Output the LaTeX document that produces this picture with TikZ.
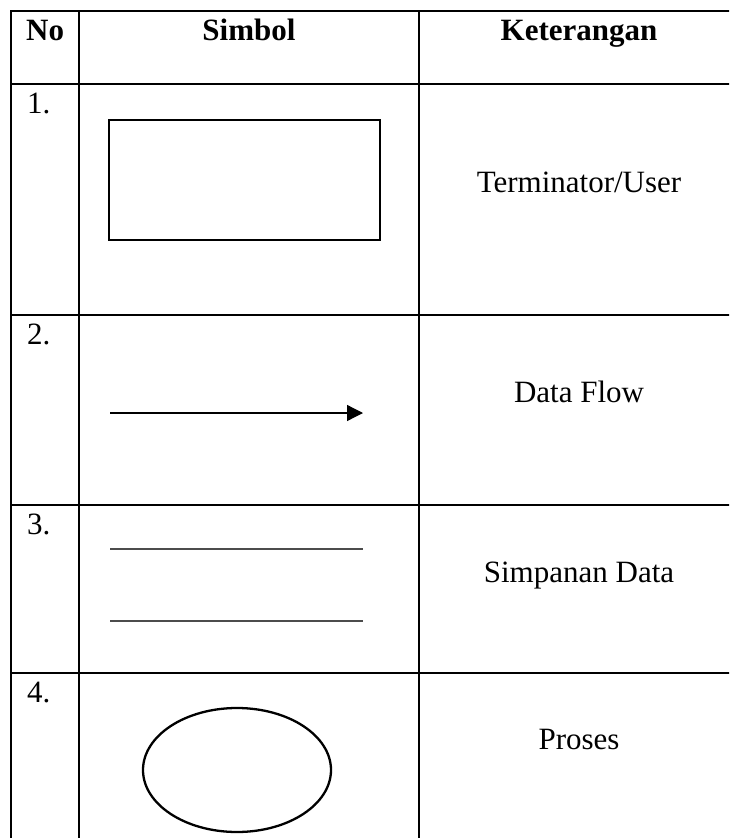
\documentclass[tikz,border=0pt]{standalone}
\usepackage{fontspec}
\setmainfont{Liberation Serif}
\usetikzlibrary{arrows.meta,shapes.geometric}
\begin{document}
\begin{tikzpicture}[x=1pt,y=-1pt,
  grid/.style={line width=2.4pt,black},
  txt/.style={inner sep=0pt,font=\fontsize{31}{37}\selectfont},
  hdr/.style={inner sep=0pt,font=\fontsize{31}{37}\selectfont\bfseries},
  shapeline/.style={line width=2.3pt,black},
  storeline/.style={line width=1.6pt,black!70}]
\useasboundingbox (0,0) rectangle (729,838);
\clip (0,0) rectangle (729,838);
% table grid
\draw[grid] (11,11) -- (740,11);
\draw[grid] (11,84) -- (740,84);
\draw[grid] (11,315) -- (740,315);
\draw[grid] (11,505) -- (740,505);
\draw[grid] (11,673) -- (740,673);
\draw[grid] (11,10) -- (11,840);
\draw[grid] (79,10) -- (79,840);
\draw[grid] (419,10) -- (419,840);
% header
\node[hdr,anchor=base west] (hno) at (26,40) {No};
\node[hdr,anchor=base] (hsim) at (249,40) {Simbol};
\node[hdr,anchor=base] (hket) at (579,40) {Keterangan};
% numbers
\node[txt,anchor=base west] (n1) at (27,113) {1.};
\node[txt,anchor=base west] (n2) at (27,344) {2.};
\node[txt,anchor=base west] (n3) at (27,534) {3.};
\node[txt,anchor=base west] (n4) at (27,702) {4.};
% descriptions
\node[txt,anchor=base] (k1) at (579,192) {Terminator/User};
\node[txt,anchor=base] (k2) at (579,402) {Data Flow};
\node[txt,anchor=base] (k3) at (579,582) {Simpanan Data};
\node[txt,anchor=base] (k4) at (579,749) {Proses};
% symbols
\node[shapeline,draw,rectangle,minimum width=271pt,minimum height=120pt,inner sep=0pt] (term) at (244.5,180) {};
\coordinate (fa) at (110,413);
\coordinate (fb) at (363,413);
\draw[line width=1.3pt,-{Triangle[length=16pt,width=16pt]}] (fa) -- (fb);
\coordinate (s1a) at (110,549);
\coordinate (s1b) at (363,549);
\coordinate (s2a) at (110,621);
\coordinate (s2b) at (363,621);
\draw[storeline] (s1a) -- (s1b);
\draw[storeline] (s2a) -- (s2b);
\node[shapeline,draw,ellipse,minimum width=188pt,minimum height=124pt,inner sep=0pt] (proc) at (237,770) {};
\end{tikzpicture}
\end{document}
